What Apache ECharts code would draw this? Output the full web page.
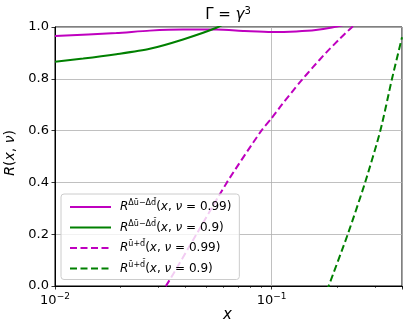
<!DOCTYPE html>
<html>
<head>
<meta charset="utf-8">
<script src="https://cdn.jsdelivr.net/npm/echarts@6/dist/echarts.min.js"></script>
<style>
  html, body { margin: 0; padding: 0; background: #fff; }
  #chart { width: 409px; height: 332px; }
</style>
</head>
<body>
<div id="chart"></div>
<script>
// data
const xTickValues = [0.01, 0.1]
const xTickLabels = ['−2', '−1']
const xMinorTicks = [0.02, 0.03, 0.04, 0.05, 0.06, 0.07, 0.08, 0.09, 0.2, 0.3, 0.4]

// R^{Δū−Δd̄}, ν = 0.99
const xSolid99 = [0.01, 0.0192, 0.0274, 0.039, 0.0556, 0.075, 0.1, 0.13, 0.16, 0.19, 0.25, 0.4]
const ySolid99 = [0.965, 0.977, 0.986, 0.990, 0.990, 0.985, 0.981, 0.983, 0.988, 0.998, 1.02, 1.06]
// R^{Δū−Δd̄}, ν = 0.9
const xSolid90 = [0.01, 0.0135, 0.0192, 0.0274, 0.039, 0.0556, 0.07]
const ySolid90 = [0.866, 0.878, 0.895, 0.916, 0.952, 0.997, 1.04]
// R^{ū+d̄}, ν = 0.99
const xDash99 = [0.03, 0.0325, 0.045, 0.0622, 0.0897, 0.1, 0.112, 0.1346, 0.1549, 0.1786, 0.2056, 0.2355, 0.28]
const yDash99 = [-0.03, 0.0, 0.2, 0.4, 0.6, 0.648, 0.702, 0.785, 0.844, 0.901, 0.953, 1.0, 1.056]
// R^{ū+d̄}, ν = 0.9
const xDash90 = [0.18, 0.1835, 0.2248, 0.2703, 0.3178, 0.3597, 0.4]
const yDash90 = [-0.02, 0.0, 0.2, 0.4, 0.6, 0.8, 0.96]

const names = [
  '{i|R}{s|Δū−Δd̄}({i|x}, {i|ν} = 0.99)',
  '{i|R}{s|Δū−Δd̄}({i|x}, {i|ν} = 0.9)',
  '{i|R}{s|ū+d̄}({i|x}, {i|ν} = 0.99)',
  '{i|R}{s|ū+d̄}({i|x}, {i|ν} = 0.9)'
]

const pairs = (xs, ys) => xs.map((x, i) => [x, ys[i]])
const MAG = '#bf00bf'
const GRN = '#008000'
const FONT = 'DejaVu Sans'

const chart = echarts.init(document.getElementById('chart'))

const mkLine = (name, data, color, dashed) => ({
  name: name,
  type: 'line',
  xAxisIndex: 0,
  data: data,
  symbol: 'none',
  smooth: 0.25,
  clip: true,
  lineStyle: { color: color, width: 2, type: dashed ? [7, 3.5] : 'solid' },
  itemStyle: { color: color }
})

const option = {
  animation: false,
  grid: {
    left: 55, top: 27, right: 7, bottom: 46,
    show: true, borderColor: '#000', borderWidth: 1, backgroundColor: 'transparent'
  },
  xAxis: [
    {
      type: 'log',
      logBase: 10,
      min: 0.01,
      max: 0.4,
      axisLine: { lineStyle: { color: '#000', width: 1 } },
      axisTick: { length: 3.5, lineStyle: { color: '#000', width: 0.8 } },
      splitLine: { show: true, lineStyle: { color: '#b0b0b0', width: 0.8 } },
      axisLabel: {
        margin: 6,
        color: '#000',
        formatter: v => {
          const i = xTickValues.findIndex(t => Math.abs(t - v) / t < 1e-6)
          return i < 0 ? '' : '{b|10}{s|' + xTickLabels[i] + '}'
        },
        rich: {
          b: { fontFamily: FONT, fontSize: 13, color: '#000' },
          s: { fontFamily: FONT, fontSize: 9, color: '#000', padding: [0, 0, 8, 0] }
        }
      }
    },
    {
      type: 'log',
      logBase: 10,
      min: 0.01,
      max: 0.4,
      position: 'bottom',
      axisLine: { show: false },
      axisLabel: { show: false },
      splitLine: { show: false },
      axisTick: {
        show: true,
        length: 2,
        customValues: xMinorTicks,
        lineStyle: { color: '#000', width: 0.6 }
      }
    }
  ],
  yAxis: {
    type: 'value',
    min: 0,
    max: 1,
    interval: 0.2,
    axisLine: { show: true, lineStyle: { color: '#000', width: 1 } },
    axisTick: { show: true, length: 3.5, lineStyle: { color: '#000', width: 0.8 } },
    splitLine: { show: true, lineStyle: { color: '#b0b0b0', width: 0.8 } },
    axisLabel: {
      margin: 6,
      color: '#000',
      fontFamily: FONT,
      fontSize: 13,
      formatter: v => v.toFixed(1)
    }
  },
  legend: {
    orient: 'vertical',
    left: 61,
    top: 194,
    padding: [5, 8, 5, 8],
    itemWidth: 41,
    itemHeight: 14,
    itemGap: 6.5,
    backgroundColor: 'rgba(255,255,255,0.8)',
    borderColor: '#cccccc',
    borderWidth: 1,
    borderRadius: 3,
    data: names,
    itemStyle: { opacity: 0 },
    textStyle: {
      fontFamily: FONT,
      fontSize: 12,
      color: '#000',
      padding: [0, 0, 0, 4],
      rich: {
        i: { fontFamily: FONT, fontStyle: 'italic', fontSize: 12, color: '#000' },
        s: { fontFamily: FONT, fontSize: 8, color: '#000', padding: [0, 0, 8, 0] }
      }
    }
  },
  graphic: [
    {
      type: 'text', x: 228, y: 6,
      style: {
        text: '{n|Γ = }{i|γ}{s|3}',
        align: 'center',
        rich: {
          n: { fontFamily: FONT, fontSize: 15, fill: '#000' },
          i: { fontFamily: FONT, fontStyle: 'italic', fontSize: 15, fill: '#000' },
          s: { fontFamily: FONT, fontSize: 10, fill: '#000', padding: [0, 0, 9, 0] }
        }
      }
    },
    {
      type: 'text', left: 223, top: 308,
      style: { text: 'x', font: 'italic 15px "DejaVu Sans"', fill: '#000' }
    },
    {
      type: 'text', left: 3, top: 130, rotation: Math.PI / 2,
      style: {
        text: '{i|R}{n|(}{i|x}{n|, }{i|ν}{n|)}',
        rich: {
          n: { fontFamily: FONT, fontSize: 14, fill: '#000' },
          i: { fontFamily: FONT, fontStyle: 'italic', fontSize: 14, fill: '#000' }
        }
      }
    }
  ],
  series: [
    mkLine(names[0], pairs(xSolid99, ySolid99), MAG, false),
    mkLine(names[1], pairs(xSolid90, ySolid90), GRN, false),
    mkLine(names[2], pairs(xDash99, yDash99), MAG, true),
    mkLine(names[3], pairs(xDash90, yDash90), GRN, true)
  ]
}

chart.setOption(option)
window.addEventListener('resize', () => chart.resize(), false)
</script>
</body>
</html>
